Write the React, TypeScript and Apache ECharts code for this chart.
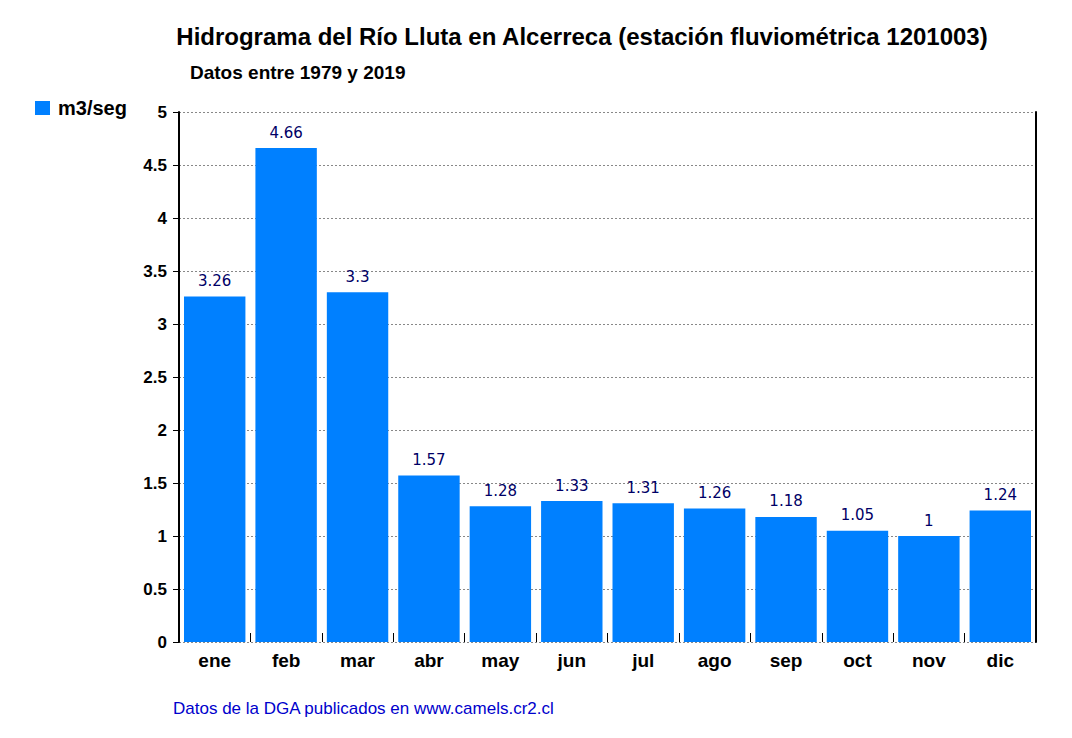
import React, { useEffect, useRef } from "react";
import * as echarts from "echarts";

const months = ["ene", "feb", "mar", "abr", "may", "jun", "jul", "ago", "sep", "oct", "nov", "dic"];
const caudal = [3.26, 4.66, 3.3, 1.57, 1.28, 1.33, 1.31, 1.26, 1.18, 1.05, 1, 1.24];
const seriesName = "m3/seg";
const titleText = "Hidrograma del Río Lluta en Alcerreca (estación fluviométrica 1201003)";
const subtitleText = "Datos entre 1979 y 2019";
const footerText = "Datos de la DGA publicados en www.camels.cr2.cl";

const FONT = "'Liberation Sans', Arial, sans-serif";

export default function App() {
  const ref = useRef<HTMLDivElement>(null);
  useEffect(() => {
    if (!ref.current) return;
    const chart = echarts.init(ref.current, undefined, { renderer: "svg" });
    chart.setOption({
      animation: false,
      backgroundColor: "#ffffff",
      title: [
        {
          text: titleText,
          left: 582,
          textAlign: "center",
          top: 24,
          padding: 0,
          textStyle: { fontFamily: FONT, fontSize: 24, fontWeight: "bold", color: "#000" },
        },
        {
          text: subtitleText,
          left: 190,
          top: 63,
          padding: 0,
          textStyle: { fontFamily: FONT, fontSize: 19, fontWeight: "bold", color: "#000" },
        },
        {
          text: footerText,
          left: 173,
          top: 700,
          padding: 0,
          textStyle: { fontFamily: FONT, fontSize: 17, fontWeight: "normal", color: "#0000cc" },
        },
      ],
      legend: {
        left: 35,
        top: 98,
        padding: 0,
        icon: "rect",
        itemWidth: 15,
        itemHeight: 14,
        itemGap: 10,
        textStyle: {
          fontFamily: FONT,
          fontSize: 20,
          fontWeight: "bold",
          color: "#000",
          padding: [0, 0, 0, 3],
        },
        data: [seriesName],
      },
      grid: { left: 179, right: 36, top: 112, bottom: 96, containLabel: false },
      xAxis: {
        type: "category",
        data: months,
        boundaryGap: true,
        axisLine: { show: false },
        axisTick: { show: true, inside: true, length: 9, lineStyle: { color: "#000" } },
        axisLabel: {
          fontFamily: FONT,
          fontSize: 19,
          fontWeight: "bold",
          color: "#000",
          margin: 9,
        },
      },
      yAxis: [
        {
          type: "value",
          min: 0,
          max: 5,
          interval: 0.5,
          axisLine: { show: true, lineStyle: { color: "#000", width: 2 } },
          axisTick: { show: true, length: 6, lineStyle: { color: "#000" } },
          axisLabel: {
            fontFamily: FONT,
            fontSize: 17,
            fontWeight: "bold",
            color: "#000",
            margin: 12,
          },
          splitLine: { show: true, lineStyle: { color: "#888", type: [2, 2], width: 1 } },
        },
        {
          type: "value",
          position: "right",
          min: 0,
          max: 5,
          interval: 0.5,
          axisLine: { show: true, lineStyle: { color: "#000", width: 2 } },
          axisTick: { show: false },
          axisLabel: { show: false },
          splitLine: { show: false },
        },
      ],
      series: [
        {
          name: seriesName,
          type: "bar",
          data: caudal,
          barCategoryGap: "14%",
          itemStyle: { color: "#0080ff" },
          label: {
            show: true,
            position: "top",
            distance: 8,
            fontFamily: "'DejaVu Sans', Verdana, sans-serif",
            fontSize: 15,
            color: "#000066",
          },
        },
      ],
    });
    return () => chart.dispose();
  }, []);
  return (
    <div
      ref={ref}
      style={{ position: "fixed", left: 0, top: 0, width: 1072, height: 738 }}
    />
  );
}
